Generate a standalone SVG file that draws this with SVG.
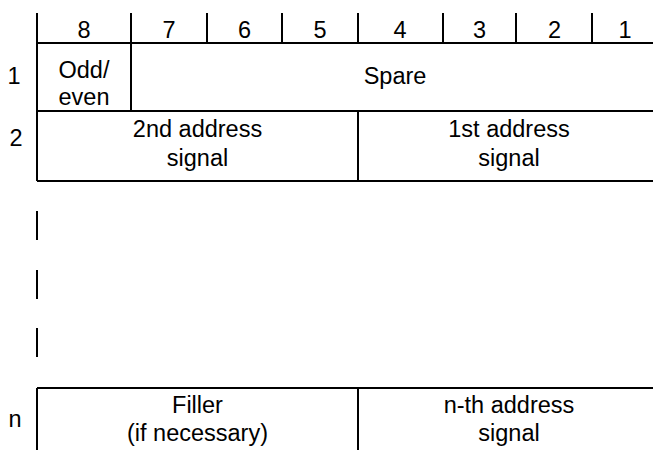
<svg xmlns="http://www.w3.org/2000/svg" width="653" height="450" viewBox="0 0 653 450">
<style>
.ln{stroke:#000;stroke-width:2;fill:none}
text{font-family:"Liberation Sans",Arial,sans-serif;font-size:23.5px;fill:#000;text-anchor:middle}
</style>
<rect width="653" height="450" fill="#fff"/>
<g id="connectors">
<path class="ln" d="M37,13V181 M131,13V111 M207,13V43 M282,13V43 M358,13V43 M443,13V43 M516,13V43 M592,13V43 M37,43H653 M37,111H653 M358,111V181 M37,181H653"/>
<path class="ln" d="M37,211V240 M37,270V299 M37,328V357"/>
<path class="ln" d="M37,388H653 M37,388V450 M358,388V450"/>
</g>
<g id="header">
<text x="84" y="37.5">8</text>
<text x="169" y="37.5">7</text>
<text x="244.5" y="37.5">6</text>
<text x="320" y="37.5">5</text>
<text x="400" y="37.5">4</text>
<text x="479.5" y="37.5">3</text>
<text x="554.5" y="37.5">2</text>
<text x="625" y="37.5">1</text>
</g>
<g id="labels">
<text x="14" y="84">1</text>
<text x="16" y="146">2</text>
<text x="15" y="427">n</text>
</g>
<g id="odd-even"><text x="84" y="77.5">Odd/</text><text x="84" y="105">even</text></g>
<g id="spare"><text x="395" y="84">Spare</text></g>
<g id="addr2"><text x="197.5" y="137">2nd address</text><text x="197.5" y="165.5">signal</text></g>
<g id="addr1"><text x="509" y="137">1st address</text><text x="509" y="165.5">signal</text></g>
<g id="filler"><text x="197.5" y="413">Filler</text><text x="197.5" y="441">(if necessary)</text></g>
<g id="addrn"><text x="509" y="413">n-th address</text><text x="509" y="441">signal</text></g>
</svg>
